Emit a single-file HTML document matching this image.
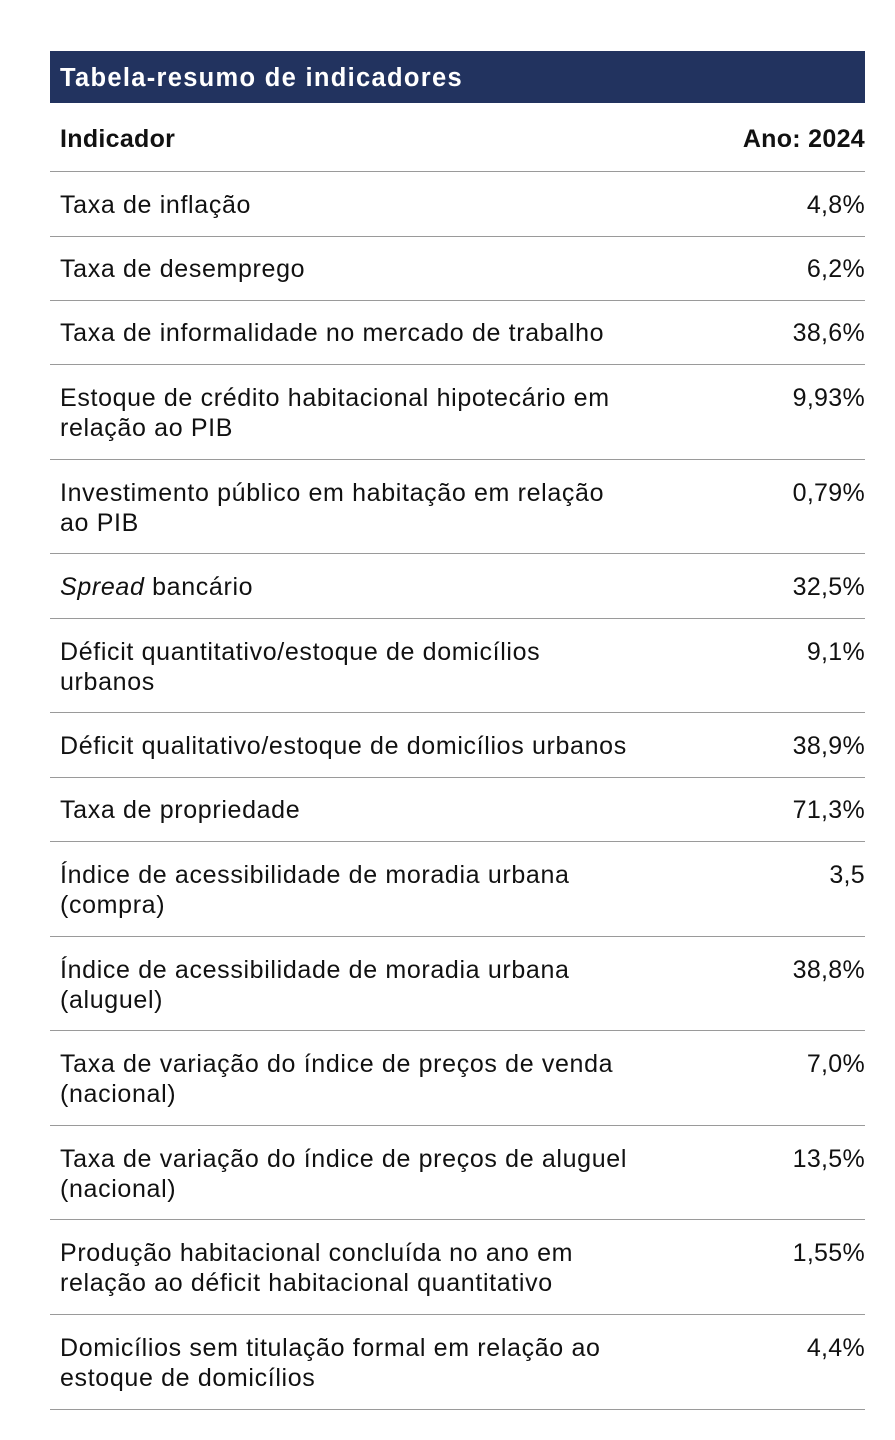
<!DOCTYPE html>
<html><head><meta charset="utf-8"><style>
body{margin:0;width:895px;height:1440px;background:#fff;position:relative;font-family:"Liberation Sans",sans-serif;color:#111;}
.hd{position:absolute;left:50px;top:51px;width:815px;height:52px;background:#22335f;color:#fff;font-size:25.5px;font-weight:bold;letter-spacing:1.3px;line-height:54px;box-sizing:border-box;padding-left:10px;}
.ln{position:absolute;left:50px;width:815px;height:0;border-top:1.5px solid #9a9a9a;}
.t{position:absolute;left:60px;font-size:25px;letter-spacing:0.65px;line-height:30px;white-space:nowrap;}
.v{position:absolute;right:30px;font-size:25px;letter-spacing:0.3px;line-height:30px;text-align:right;}
b{font-weight:bold;letter-spacing:0.3px}
</style></head><body>
<div class="hd">Tabela-resumo de indicadores</div>
<div class="t" style="top:124px"><b>Indicador</b></div>
<div class="v" style="top:124px"><b>Ano: 2024</b></div>
<div class="ln" style="top:171px"></div>
<div class="t" style="top:190px">Taxa de inflação</div><div class="v" style="top:190px">4,8%</div>
<div class="ln" style="top:236px"></div>
<div class="t" style="top:254px">Taxa de desemprego</div><div class="v" style="top:254px">6,2%</div>
<div class="ln" style="top:300px"></div>
<div class="t" style="top:318px">Taxa de informalidade no mercado de trabalho</div><div class="v" style="top:318px">38,6%</div>
<div class="ln" style="top:364px"></div>
<div class="t" style="top:383px">Estoque de crédito habitacional hipotecário em<br>relação ao PIB</div><div class="v" style="top:383px">9,93%</div>
<div class="ln" style="top:459px"></div>
<div class="t" style="top:478px">Investimento público em habitação em relação<br>ao PIB</div><div class="v" style="top:478px">0,79%</div>
<div class="ln" style="top:553px"></div>
<div class="t" style="top:572px"><i>Spread</i> bancário</div><div class="v" style="top:572px">32,5%</div>
<div class="ln" style="top:618px"></div>
<div class="t" style="top:637px">Déficit quantitativo/estoque de domicílios<br>urbanos</div><div class="v" style="top:637px">9,1%</div>
<div class="ln" style="top:712px"></div>
<div class="t" style="top:731px">Déficit qualitativo/estoque de domicílios urbanos</div><div class="v" style="top:731px">38,9%</div>
<div class="ln" style="top:777px"></div>
<div class="t" style="top:795px">Taxa de propriedade</div><div class="v" style="top:795px">71,3%</div>
<div class="ln" style="top:841px"></div>
<div class="t" style="top:860px">Índice de acessibilidade de moradia urbana<br>(compra)</div><div class="v" style="top:860px">3,5</div>
<div class="ln" style="top:936px"></div>
<div class="t" style="top:955px">Índice de acessibilidade de moradia urbana<br>(aluguel)</div><div class="v" style="top:955px">38,8%</div>
<div class="ln" style="top:1030px"></div>
<div class="t" style="top:1049px">Taxa de variação do índice de preços de venda<br>(nacional)</div><div class="v" style="top:1049px">7,0%</div>
<div class="ln" style="top:1125px"></div>
<div class="t" style="top:1144px">Taxa de variação do índice de preços de aluguel<br>(nacional)</div><div class="v" style="top:1144px">13,5%</div>
<div class="ln" style="top:1219px"></div>
<div class="t" style="top:1238px">Produção habitacional concluída no ano em<br>relação ao déficit habitacional quantitativo</div><div class="v" style="top:1238px">1,55%</div>
<div class="ln" style="top:1314px"></div>
<div class="t" style="top:1333px">Domicílios sem titulação formal em relação ao<br>estoque de domicílios</div><div class="v" style="top:1333px">4,4%</div>
<div class="ln" style="top:1409px"></div>
</body></html>
